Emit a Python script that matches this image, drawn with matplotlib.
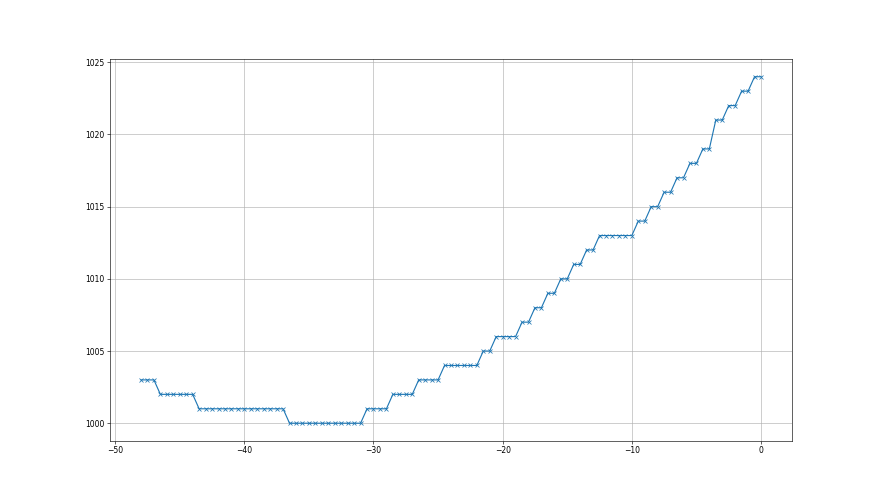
import matplotlib
matplotlib.use("Agg")
import matplotlib.pyplot as plt
import numpy as np

# x positions (hours), every 0.5 from -48 to 0
x_values = [-48.0 + 0.5 * i for i in range(97)]

# pressure values
y_values = (
    [1003] * 3 + [1002] * 6 + [1001] * 14 + [1000] * 12 +
    [1001] * 4 + [1002] * 4 + [1003] * 4 + [1004] * 6 +
    [1005] * 2 + [1006] * 4 + [1007] * 2 + [1008] * 2 +
    [1009] * 2 + [1010] * 2 + [1011] * 2 + [1012] * 2 +
    [1013] * 6 + [1014] * 2 + [1015] * 2 + [1016] * 2 +
    [1017] * 2 + [1018] * 2 + [1019] * 2 + [1021] * 2 +
    [1022] * 2 + [1023] * 2 + [1024] * 2
)

fig = plt.figure(figsize=(16, 9), dpi=55)
ax = fig.add_subplot(111)
ax.plot(x_values, y_values, marker='x', color='#1f77b4')
ax.grid(True)
fig.savefig("out.png", dpi=55)
